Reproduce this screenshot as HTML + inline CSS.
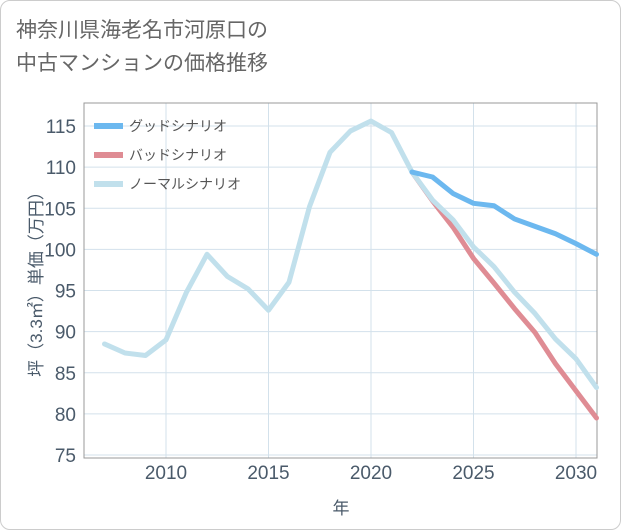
<!DOCTYPE html>
<html><head><meta charset="utf-8"><style>
body{margin:0;background:#fff;}
#wrap{position:relative;width:621px;height:530px;font-family:"Liberation Sans","Noto Sans CJK JP",sans-serif;}
#frame{position:absolute;left:0;top:0;width:619px;height:528px;border:1px solid #ccc;border-radius:10px;}
#title{position:absolute;left:16px;top:14px;font-size:21px;line-height:33px;color:#666;}
</style></head><body>
<div id="wrap">
<div id="frame"></div>
<div id="title">神奈川県海老名市河原口の<br>中古マンションの価格推移</div>
<svg id="chart" width="621" height="530" style="position:absolute;left:0;top:0"></svg>
</div>
<script>
const years=[2007,2008,2009,2010,2011,2012,2013,2014,2015,2016,2017,2018,2019,2020,2021,2022,2023,2024,2025,2026,2027,2028,2029,2030,2031];
const normalVals=[88.5,87.4,87.1,89,94.8,99.4,96.7,95.2,92.6,96,105.2,111.8,114.4,115.6,114.2,109.4,106,103.6,100.3,97.9,94.8,92.2,89.1,86.7,83.2];
const futureYears=[2022,2023,2024,2025,2026,2027,2028,2029,2030,2031];
const goodVals=[109.4,108.8,106.8,105.6,105.3,103.7,102.8,101.9,100.7,99.4];
const badVals=[109.4,105.9,102.7,98.9,95.9,92.8,89.9,86.1,82.8,79.5];
const yTicks=[75,80,85,90,95,100,105,110,115];
const xTicks=[2010,2015,2020,2025,2030];
const legendLabels=["グッドシナリオ","バッドシナリオ","ノーマルシナリオ"];

const L=84,R=597,T=103,B=458;
const X=y=>166+(y-2010)*20.5;
const Y=v=>126+(115-v)*8.225;
const svg=document.getElementById('chart');
const NS='http://www.w3.org/2000/svg';
function mk(tag,attrs,parent){const e=document.createElementNS(NS,tag);for(const k in attrs)e.setAttribute(k,attrs[k]);(parent||svg).appendChild(e);return e;}

yTicks.forEach(v=>{
 const l=mk('line',{x1:L,x2:R,y1:Y(v),y2:Y(v),stroke:'#d3e1eb','stroke-width':1});
 
 
 const t=mk('text',{x:L-8,y:Y(v)+7,'text-anchor':'end','font-size':19,fill:'#4a5a6a'});
 t.textContent=v;
 
 
});
xTicks.forEach(v=>{
 const l=mk('line',{x1:X(v),x2:X(v),y1:T,y2:B,stroke:'#d3e1eb','stroke-width':1});
 
 
 const t=mk('text',{x:X(v),y:B+21,'text-anchor':'middle','font-size':19,fill:'#4a5a6a'});
 t.textContent=v;
 
 
});
const ax=mk('rect',{x:L,y:T,width:R-L,height:B-T,fill:'none',stroke:'#999','stroke-width':1});



function series(xs,vs,color,name){
 const p=mk('polyline',{points:xs.map((y,i)=>X(y)+','+Y(vs[i])).join(' '),fill:'none',stroke:color,'stroke-width':5,'stroke-linejoin':'round','stroke-linecap':'round'});
 
 
}
series(futureYears,badVals,'#df8c94','bad-scenario-line');
series(years,normalVals,'#c1e0ec','normal-scenario-line');
series(futureYears,goodVals,'#6cb8ef','good-scenario-line');
const legColors=['#6cb8ef','#df8c94','#c1e0ec'];
legendLabels.forEach((s,i)=>{
 const yy=126+i*29;
 const r=mk('rect',{x:94,y:yy-3,width:29,height:6,fill:legColors[i]});
 
 
 const t=mk('text',{x:129,y:yy+5,'font-size':14,fill:'#555'});
 t.textContent=s;
 
 
});
const xt=mk('text',{x:341,y:514,'text-anchor':'middle','font-size':17,fill:'#4a5a6a'});
xt.textContent='年';


const yt=mk('text',{x:0,y:0,'text-anchor':'middle','font-size':17,fill:'#4a5a6a',transform:'translate(42,280) rotate(-90)'});
yt.textContent='坪（3.3㎡）単価（万円）';


</script>
</body></html>
